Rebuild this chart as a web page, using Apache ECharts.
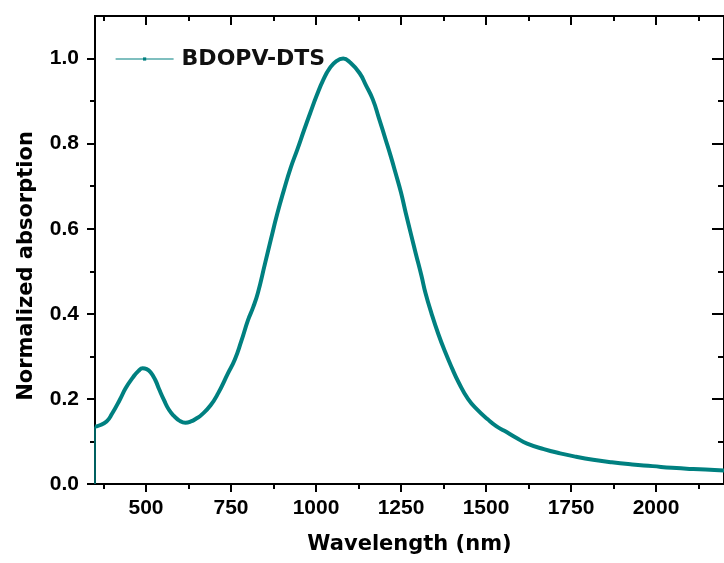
<!DOCTYPE html>
<html>
<head>
<meta charset="utf-8">
<script src="https://cdn.jsdelivr.net/npm/echarts@6/dist/echarts.min.js"></script>
<style>html,body{margin:0;padding:0;background:#fff;}#c{width:724px;height:563px;}</style>
</head>
<body>
<div id="c"></div>
<script>
const seriesName = 'BDOPV-DTS';
const wavelength = [350,360,384,400,423,440,461,478,490,502,514,527,539,553,567,582,598,616,632,648,664,690,712,741,761,780,800,815,829,850,867,886,906,925,945,965,983,1002,1022,1040,1060,1080,1100,1128,1147,1167,1185,1205,1220,1234,1250,1264,1280,1293,1310,1322,1340,1360,1380,1399,1420,1447,1475,1505,1530,1554,1590,1621,1670,1718,1765,1815,1870,1930,1990,2047,2110,2172,2200];
const absorption = [0.135,0.137,0.147,0.165,0.198,0.225,0.250,0.266,0.272,0.270,0.262,0.245,0.222,0.197,0.175,0.160,0.149,0.144,0.147,0.154,0.163,0.185,0.213,0.260,0.292,0.335,0.385,0.415,0.449,0.518,0.574,0.635,0.692,0.742,0.786,0.832,0.872,0.913,0.951,0.977,0.994,1.000,0.991,0.966,0.937,0.904,0.860,0.809,0.770,0.731,0.685,0.637,0.585,0.543,0.490,0.449,0.400,0.352,0.310,0.274,0.238,0.200,0.174,0.152,0.136,0.125,0.108,0.095,0.082,0.072,0.064,0.057,0.051,0.046,0.042,0.038,0.035,0.033,0.032];
// thin baseline segment at the first wavelength
const startX = [350, 350];
const startY = [0, 0.135];

const xMajorTicks = [500,750,1000,1250,1500,1750,2000];
const xMinorTicks = [375,625,875,1125,1375,1625,1875,2125];
const yMajorTicks = [0,0.2,0.4,0.6,0.8,1.0];
const yMinorTicks = [0.1,0.3,0.5,0.7,0.9];
const xRange = [350, 2200];
const yRange = [0, 1.1];

const lineData = wavelength.map((w, i) => [w, absorption[i]]);
const startData = startX.map((w, i) => [w, startY[i]]);

const black = '#000';
const tickFont = {color: '#000', fontFamily: 'Liberation Sans', fontWeight: 'bold', fontSize: 21};

function xAx(pos, ticks, len, inside, labels) {
  return {
    type: 'value', position: pos, min: xRange[0], max: xRange[1], gridIndex: 0,
    axisLine: {show: true, onZero: false, lineStyle: {color: black, width: 2}},
    axisTick: {show: true, inside: inside, length: len, customValues: ticks, lineStyle: {color: black, width: 2}},
    axisLabel: labels ? Object.assign({show: true, margin: 14, customValues: ticks, formatter: v => String(v)}, tickFont) : {show: false},
    splitLine: {show: false}
  };
}
function yAx(pos, ticks, len, inside, labels) {
  return {
    type: 'value', position: pos, min: yRange[0], max: yRange[1], gridIndex: 0,
    axisLine: {show: true, onZero: false, lineStyle: {color: black, width: 2}},
    axisTick: {show: true, inside: inside, length: len, customValues: ticks, lineStyle: {color: black, width: 2}},
    axisLabel: labels ? Object.assign({show: true, margin: 16, customValues: ticks, formatter: v => v.toFixed(1)}, tickFont) : {show: false},
    splitLine: {show: false}
  };
}

const xMain = xAx('bottom', xMajorTicks, 8, false, true);
xMain.name = 'Wavelength (nm)';
xMain.nameLocation = 'middle';
xMain.nameGap = 50;
xMain.nameTextStyle = {color: '#000', fontFamily: 'DejaVu Sans', fontWeight: 'bold', fontSize: 21};

const yMain = yAx('left', yMajorTicks, 8, false, true);
yMain.name = 'Normalized absorption';
yMain.nameLocation = 'middle';
yMain.nameGap = 58;
yMain.nameTextStyle = {color: '#000', fontFamily: 'DejaVu Sans', fontWeight: 'bold', fontSize: 21, padding: [0, 32, 0, 0]};

const option = {
  backgroundColor: '#fff',
  animation: false,
  grid: {left: 95, right: -9, top: 16, bottom: 79, containLabel: false},
  legend: {
    show: true, left: 115, top: 48, padding: 0,
    itemWidth: 58, itemHeight: 4, itemGap: 8,
    lineStyle: {width: 1.2},
    itemStyle: {borderWidth: 0},
    textStyle: {color: '#111', fontFamily: 'DejaVu Sans', fontWeight: 'bold', fontSize: 22, padding: [0, 0, 0, 3]},
    data: [seriesName]
  },
  xAxis: [
    xMain,
    xAx('bottom', xMinorTicks, 5, false, false),
    xAx('top', xMajorTicks, 9, true, false),
    xAx('top', xMinorTicks, 5, true, false)
  ],
  yAxis: [
    yMain,
    yAx('left', yMinorTicks, 5, false, false),
    yAx('right', yMajorTicks, 12, true, false),
    yAx('right', yMinorTicks, 6, true, false)
  ],
  series: [
    {
      name: seriesName, type: 'line', xAxisIndex: 0, yAxisIndex: 0,
      data: lineData, smooth: 0.5, symbol: 'rect', symbolSize: 4, showSymbol: false,
      lineStyle: {color: '#008080', width: 4},
      itemStyle: {color: '#008080'}
    },
    {
      name: 'start', type: 'line', xAxisIndex: 0, yAxisIndex: 0,
      data: startData, symbol: 'none',
      lineStyle: {color: '#008080', width: 1.5}
    }
  ]
};
const chart = echarts.init(document.getElementById('c'), null, {renderer: 'canvas'});
chart.setOption(option);
</script>
</body>
</html>
